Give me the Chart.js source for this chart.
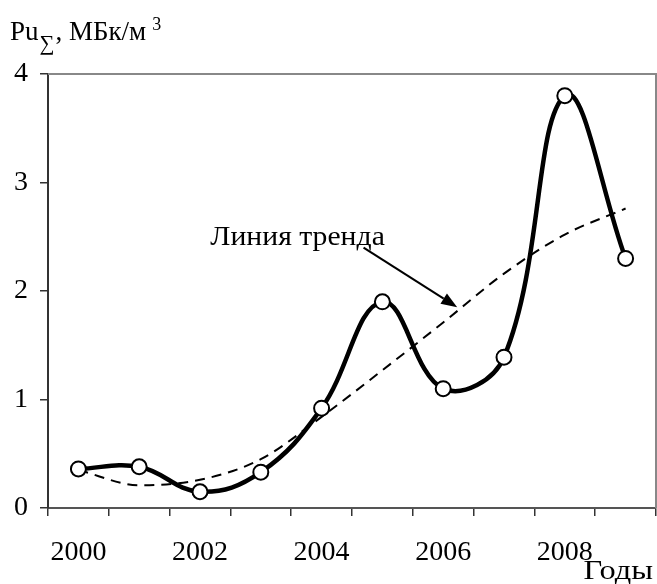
<!DOCTYPE html>
<html>
<head>
<meta charset="utf-8">
<script src="https://cdn.jsdelivr.net/npm/chart.js@4/dist/chart.umd.min.js"></script>
<style>
  body { margin: 0; background: #fff; }
  #wrap { width: 657px; height: 584px; }
</style>
</head>
<body>
<div id="wrap"><canvas id="puChart" width="657" height="584"></canvas></div>
<script>
// values
var years = ['2000', '2001', '2002', '2003', '2004', '2005', '2006', '2007', '2008', '2009'];
var puValues = [0.36, 0.38, 0.15, 0.33, 0.92, 1.90, 1.10, 1.39, 3.80, 2.30];
var trendValues = [0.35, 0.21, 0.26, 0.45, 0.84, 1.27, 1.71, 2.16, 2.52, 2.76];
var xTickLabels = ['2000', '2002', '2004', '2006', '2008'];
var yTicks = [0, 1, 2, 3, 4];

var serif = '"Liberation Serif", "Times New Roman", serif';
Chart.defaults.font.family = serif;

// text squeezed/stretched horizontally to match the picture
function drawText(c, txt, x, y, size, sx, align) {
    c.save();
    c.font = size + 'px ' + serif;
    var w = c.measureText(txt).width * sx;
    if (align === 'right') x -= w;
    c.translate(x, y);
    c.scale(sx, 1);
    c.textAlign = 'left';
    c.fillText(txt, 0, 0);
    c.restore();
    return x + w;
}

// frame, titles and the arrow pointing at the trend line
var extras = {
    id: 'extras',
    afterDraw: function(chart) {
        var c = chart.ctx, a = chart.chartArea;
        var xs = chart.scales.x, ys = chart.scales.y;
        c.save();
        // top and right frame
        c.strokeStyle = '#888';
        c.lineWidth = 2;
        c.beginPath();
        c.moveTo(a.left, a.top);
        c.lineTo(a.right, a.top);
        c.lineTo(a.right, a.bottom);
        c.stroke();

        c.fillStyle = '#000';
        c.textBaseline = 'alphabetic';
        // y axis title
        var x = drawText(c, 'Pu', 10, 40, 27, 1, 'left');
        x = drawText(c, '\u2211', x + 1, 50, 21, 1, 'left');
        x = drawText(c, ', МБк/м', x + 1, 40, 27, 1, 'left');
        drawText(c, '3', x + 6, 30, 18, 1, 'left');

        // x axis title
        drawText(c, 'Годы', 653, 579, 27, 1.2, 'right');

        // trend label
        drawText(c, 'Линия тренда', xs.getPixelForValue(2.17), ys.getPixelForValue(2.42), 27, 1.1, 'left');

        // arrow
        var x1 = xs.getPixelForValue(4.69), y1 = ys.getPixelForValue(2.40);
        var x2 = xs.getPixelForValue(6.23), y2 = ys.getPixelForValue(1.85);
        var ang = Math.atan2(y2 - y1, x2 - x1);
        var len = 16, half = 6;
        var bx = x2 - len * Math.cos(ang), by = y2 - len * Math.sin(ang);
        c.strokeStyle = '#000';
        c.lineWidth = 2;
        c.beginPath();
        c.moveTo(x1, y1);
        c.lineTo(bx, by);
        c.stroke();
        c.beginPath();
        c.moveTo(x2, y2);
        c.lineTo(bx + half * Math.sin(ang), by - half * Math.cos(ang));
        c.lineTo(bx - half * Math.sin(ang), by + half * Math.cos(ang));
        c.closePath();
        c.fill();
        c.restore();
    }
};

var ctx = document.getElementById('puChart').getContext('2d');
var puChart = new Chart(ctx, {
    type: 'line',
    data: {
        labels: years,
        datasets: [{
            label: 'Pu',
            data: puValues,
            borderColor: '#000',
            borderWidth: 4.5,
            tension: 0.4,
            pointRadius: 7.5,
            pointBorderWidth: 2,
            pointBackgroundColor: '#fff',
            pointBorderColor: '#000',
            fill: false
        }, {
            label: 'Линия тренда',
            data: trendValues,
            borderColor: '#000',
            borderWidth: 2,
            borderDash: [10, 7],
            cubicInterpolationMode: 'monotone',
            pointRadius: 0,
            fill: false
        }]
    },
    options: {
        responsive: false,
        animation: false,
        layout: { autoPadding: false, padding: { top: 74, right: 1, left: 0, bottom: 0 } },
        plugins: {
            legend: { display: false },
            tooltip: { enabled: false }
        },
        scales: {
            x: {
                type: 'category',
                offset: true,
                afterFit: function(scale) {
                    scale.height = 76;
                    scale.paddingLeft = 0;
                    scale.paddingRight = 0;
                },
                border: { display: true, color: '#555', width: 2 },
                grid: {
                    offset: true,
                    drawOnChartArea: false,
                    drawTicks: true,
                    tickLength: 8,
                    color: '#333',
                    lineWidth: 1.5
                },
                ticks: {
                    autoSkip: false,
                    maxRotation: 0,
                    padding: 20,
                    color: '#000',
                    font: { family: serif, size: 28 },
                    callback: function(val, i) {
                        var lab = years[i];
                        return xTickLabels.indexOf(lab) >= 0 ? lab : '';
                    }
                }
            },
            y: {
                min: yTicks[0],
                max: yTicks[yTicks.length - 1],
                afterFit: function(scale) { scale.width = 48; },
                border: { display: true, color: '#333', width: 2 },
                grid: {
                    drawOnChartArea: false,
                    drawTicks: true,
                    tickLength: 8,
                    color: '#333',
                    lineWidth: 1.5
                },
                ticks: {
                    stepSize: 1,
                    padding: 12,
                    color: '#000',
                    font: { family: serif, size: 28 }
                }
            }
        }
    },
    plugins: [extras]
});
</script>
</body>
</html>
